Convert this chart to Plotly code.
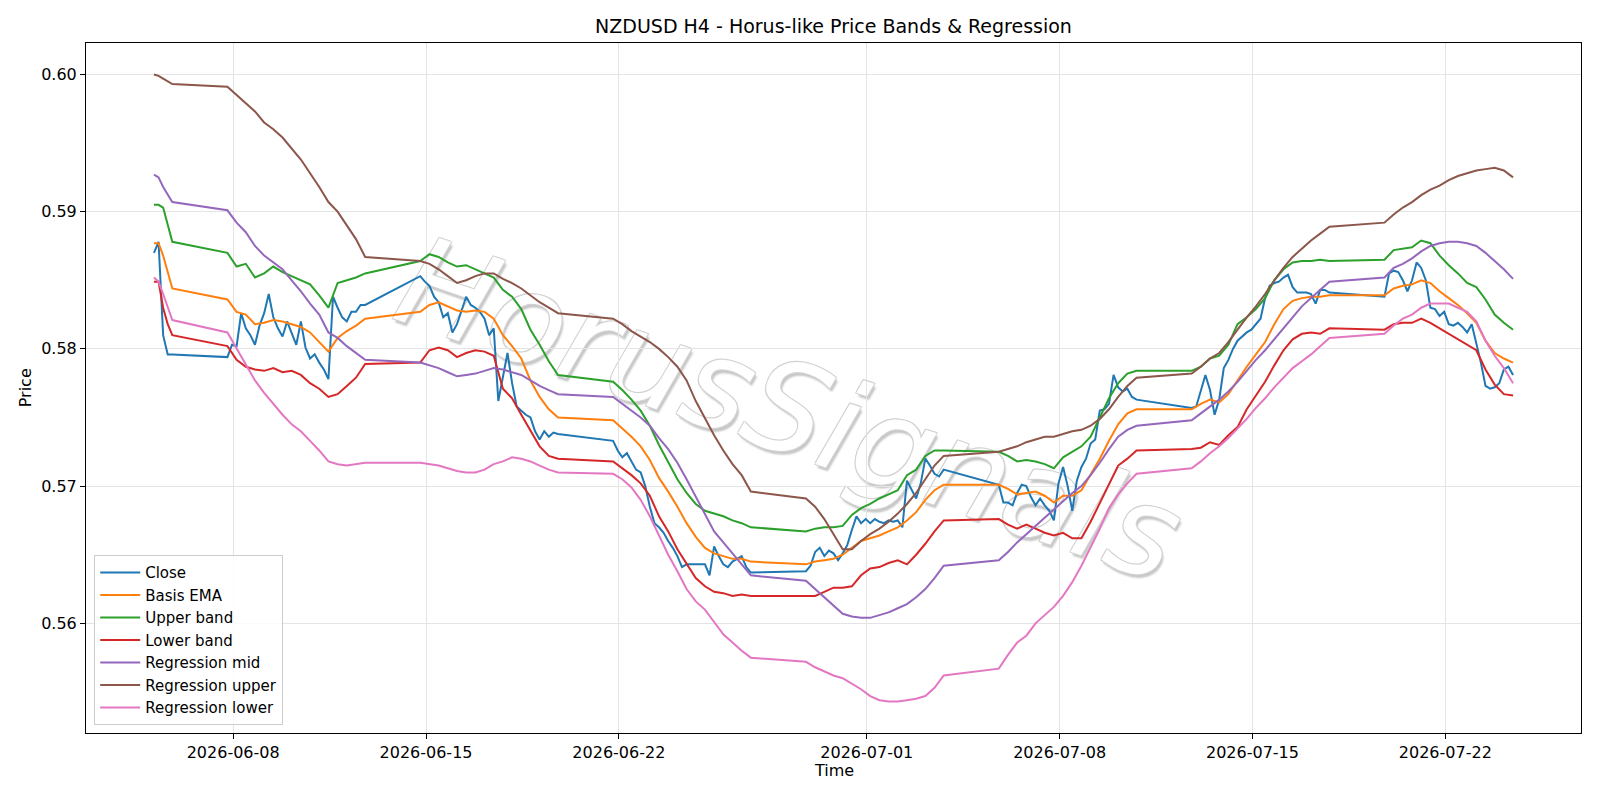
import pandas as pd
import plotly.graph_objects as go

# ---------------- data ----------------
TITLE = "NZDUSD H4 - Horus-like Price Bands & Regression"
SESSION_STARTS = ["2026-06-05 03:00", "2026-06-07 19:00", "2026-06-14 19:00", "2026-06-21 19:00",
                  "2026-06-28 19:00", "2026-07-05 19:00", "2026-07-12 19:00", "2026-07-19 19:00"]
CLOSE_STEP_H = [4, 4, 4, 4, 4, 4, 4, 4]
BAND_STEP_H = [4, 8, 8, 8, 8, 8, 8, 8]

CLOSE = [
    [.5870, .5878, .5810, .5796, .5796],
    [.5794, .5803, .5802, .5826, .5815, .5810, .5803, .5817, .5826, .5840, .5823, .5815, .5809, .5820, .5812, .5803,
     .5820, .5801, .5793, .5796, .5790, .5785, .5778, .5838, .5830, .5823, .5820, .5827, .5827, .5832, .5832],
    [.5853, .5849, .5846, .5838, .5834, .5823, .5826, .5812, .5818, .5828, .5838, .5832, .5830, .5827, .5822, .5810,
     .5815, .5762, .5780, .5797, .5775, .5758, .5755, .5752, .5750, .5740, .5734, .5740, .5736, .5739, .5738],
    [.5733, .5726, .5721, .5724, .5718, .5712, .5710, .5700, .5685, .5673, .5670, .5666, .5660, .5655, .5649, .5641,
     .5643, .5643, .5643, .5643, .5643, .5635, .5656, .5649, .5643, .5641, .5645, .5647, .5649, .5641, .5637],
    [.5638, .5642, .5652, .5655, .5649, .5653, .5651, .5646, .5651, .5657, .5668, .5678, .5673, .5676, .5673, .5676,
     .5674, .5673, .5675, .5674, .5675, .5670, .5704, .5697, .5691, .5702, .5720, .5715, .5709, .5707, .5712],
    [.5701, .5688, .5688, .5686, .5695, .5701, .5700, .5692, .5686, .5691, .5686, .5682, .5675, .5702, .5714, .5700,
     .5682, .5704, .5714, .5720, .5731, .5734, .5755, .5756, .5760, .5781, .5772, .5769, .5771, .5765, .5763],
    [.5757, .5758, .5770, .5781, .5770, .5752, .5763, .5786, .5792, .5800, .5806, .5809, .5812, .5814, .5818, .5822,
     .5837, .5846, .5848, .5849, .5852, .5854, .5845, .5841, .5841, .5841, .5840, .5833, .5843, .5843, .5841],
    [.5838, .5855, .5857, .5856, .5850, .5842, .5850, .5863, .5859, .5850, .5830, .5829, .5824, .5827, .5818, .5817,
     .5819, .5816, .5812, .5818, .5805, .5790, .5773, .5771, .5772, .5775, .5785, .5787, .5781],
]

BASIS_EMA = [
    [.5877, .5877, .5868, .5856, .5844],
    [.5836, .5827, .5825, .5818, .5819, .5821, .5820, .5818, .5816, .5812, .5805, .5798, .5808, .5813, .5817, .5822],
    [.5827, .5832, .5834, .5831, .5828, .5827, .5828, .5827, .5822, .5810, .5802, .5793, .5777, .5765, .5756, .5750],
    [.5748, .5742, .5736, .5729, .5719, .5706, .5696, .5685, .5673, .5663, .5655, .5651, .5649, .5647, .5647, .5645],
    [.5643, .5645, .5646, .5647, .5650, .5655, .5660, .5662, .5664, .5667, .5670, .5675, .5681, .5690, .5697, .5701],
    [.5701, .5698, .5694, .5695, .5696, .5693, .5688, .5693, .5693, .5697, .5708, .5720, .5733, .5745, .5753, .5756],
    [.5756, .5760, .5763, .5761, .5767, .5777, .5787, .5796, .5805, .5818, .5829, .5835, .5837, .5838, .5838, .5839],
    [.5839, .5844, .5846, .5847, .5850, .5848, .5842, .5837, .5832, .5826, .5819, .5806, .5797, .5793, .5790],
]

UPPER_BAND = [
    [.5905, .5905, .5903, .5890, .5878],
    [.5870, .5860, .5862, .5852, .5855, .5860, .5856, .5853, .5850, .5847, .5839, .5830, .5848, .5850, .5852, .5855],
    [.5864, .5869, .5867, .5863, .5860, .5861, .5858, .5855, .5852, .5843, .5838, .5829, .5814, .5803, .5791, .5781],
    [.5776, .5770, .5763, .5755, .5744, .5730, .5717, .5705, .5695, .5687, .5682, .5680, .5678, .5675, .5673, .5670],
    [.5667, .5669, .5670, .5670, .5671, .5679, .5684, .5687, .5691, .5694, .5697, .5708, .5712, .5722, .5726, .5726],
    [.5725, .5722, .5718, .5719, .5718, .5716, .5713, .5721, .5725, .5729, .5736, .5750, .5764, .5775, .5782, .5784],
    [.5784, .5787, .5793, .5795, .5803, .5818, .5823, .5829, .5837, .5850, .5858, .5863, .5864, .5864, .5865, .5864],
    [.5865, .5872, .5873, .5874, .5879, .5877, .5868, .5861, .5855, .5848, .5845, .5836, .5825, .5819, .5814],
]

LOWER_BAND = [
    [.5849, .5849, .5830, .5818, .5810],
    [.5802, .5792, .5787, .5785, .5784, .5786, .5783, .5784, .5781, .5775, .5771, .5765, .5767, .5773, .5779, .5789],
    [.5790, .5799, .5801, .5799, .5794, .5797, .5799, .5798, .5795, .5771, .5764, .5752, .5741, .5729, .5722, .5720],
    [.5718, .5713, .5708, .5702, .5693, .5678, .5667, .5654, .5643, .5633, .5627, .5623, .5622, .5620, .5621, .5620],
    [.5620, .5620, .5623, .5626, .5626, .5627, .5635, .5640, .5641, .5644, .5646, .5643, .5650, .5658, .5667, .5675],
    [.5676, .5672, .5669, .5672, .5669, .5666, .5664, .5666, .5662, .5662, .5674, .5688, .5702, .5715, .5720, .5726],
    [.5727, .5728, .5732, .5730, .5737, .5743, .5756, .5766, .5776, .5788, .5799, .5807, .5811, .5812, .5811, .5815],
    [.5814, .5818, .5819, .5819, .5822, .5819, .5815, .5811, .5807, .5803, .5799, .5785, .5774, .5767, .5766],
]

REG_MID = [
    [.5927, .5925, .5918, .5912, .5907],
    [.5901, .5892, .5885, .5875, .5868, .5863, .5858, .5850, .5842, .5833, .5825, .5812, .5808, .5802, .5797, .5792],
    [.5790, .5788, .5786, .5783, .5780, .5781, .5782, .5784, .5786, .5785, .5783, .5781, .5777, .5773, .5770, .5767],
    [.5765, .5760, .5755, .5750, .5744, .5735, .5727, .5717, .5705, .5692, .5680, .5667, .5659, .5651, .5643, .5635],
    [.5631, .5625, .5619, .5613, .5607, .5605, .5604, .5604, .5606, .5608, .5611, .5614, .5619, .5625, .5633, .5642],
    [.5646, .5652, .5659, .5665, .5671, .5677, .5683, .5689, .5695, .5700, .5708, .5717, .5727, .5736, .5741, .5744],
    [.5748, .5753, .5758, .5763, .5769, .5776, .5784, .5792, .5799, .5807, .5815, .5823, .5831, .5837, .5843, .5849],
    [.5852, .5859, .5862, .5866, .5871, .5875, .5877, .5878, .5878, .5877, .5875, .5870, .5864, .5858, .5851],
]

REG_UPPER = [
    [.6000, .5999, .5997, .5995, .5993],
    [.5991, .5985, .5979, .5973, .5965, .5960, .5954, .5946, .5938, .5928, .5918, .5907, .5900, .5890, .5880, .5867],
    [.5864, .5862, .5858, .5853, .5848, .5850, .5853, .5855, .5855, .5851, .5848, .5844, .5839, .5834, .5830, .5826],
    [.5822, .5818, .5813, .5809, .5805, .5800, .5794, .5787, .5777, .5762, .5749, .5737, .5726, .5716, .5708, .5696],
    [.5691, .5685, .5676, .5665, .5654, .5654, .5660, .5665, .5669, .5674, .5680, .5687, .5695, .5705, .5715, .5722],
    [.5725, .5727, .5729, .5732, .5734, .5736, .5736, .5738, .5740, .5741, .5744, .5749, .5756, .5765, .5773, .5779],
    [.5782, .5787, .5793, .5797, .5805, .5814, .5823, .5831, .5840, .5850, .5859, .5867, .5873, .5879, .5884, .5889],
    [.5892, .5898, .5903, .5907, .5912, .5916, .5919, .5923, .5926, .5928, .5930, .5931, .5932, .5930, .5925],
]

REG_LOWER = [
    [.5852, .5849, .5840, .5830, .5821],
    [.5812, .5800, .5788, .5777, .5768, .5760, .5752, .5745, .5740, .5733, .5726, .5718, .5716, .5715, .5716, .5717],
    [.5717, .5716, .5715, .5713, .5711, .5710, .5710, .5712, .5716, .5718, .5721, .5720, .5718, .5715, .5712, .5710],
    [.5709, .5705, .5699, .5690, .5678, .5664, .5650, .5638, .5625, .5616, .5610, .5601, .5592, .5586, .5580, .5575],
    [.5572, .5568, .5565, .5562, .5560, .5556, .5552, .5547, .5544, .5543, .5543, .5544, .5545, .5547, .5553, .5562],
    [.5567, .5577, .5586, .5591, .5600, .5606, .5612, .5620, .5630, .5642, .5655, .5669, .5684, .5694, .5702, .5709],
    [.5713, .5718, .5724, .5729, .5735, .5742, .5749, .5757, .5764, .5772, .5779, .5786, .5791, .5796, .5802, .5808],
    [.5811, .5817, .5822, .5825, .5830, .5833, .5833, .5833, .5830, .5827, .5820, .5806, .5795, .5786, .5775],
]

X_TICKS = ["2026-06-08", "2026-06-15", "2026-06-22", "2026-07-01", "2026-07-08", "2026-07-15", "2026-07-22"]
Y_TICKS = [0.56, 0.57, 0.58, 0.59, 0.60]
WATERMARK = "HorusSignals"


# ---------------- helpers ----------------
def flatten(sessions, steps):
    xs, ys = [], []
    for start, step, vals in zip(SESSION_STARTS, steps, sessions):
        xs += list(pd.date_range(start, periods=len(vals), freq=f"{step}h"))
        ys += list(vals)
    return xs, ys


SERIES = [
    ("Close", CLOSE, CLOSE_STEP_H, "#1f77b4"),
    ("Basis EMA", BASIS_EMA, BAND_STEP_H, "#ff7f0e"),
    ("Upper band", UPPER_BAND, BAND_STEP_H, "#2ca02c"),
    ("Lower band", LOWER_BAND, BAND_STEP_H, "#d62728"),
    ("Regression mid", REG_MID, BAND_STEP_H, "#9467bd"),
    ("Regression upper", REG_UPPER, BAND_STEP_H, "#8c564b"),
    ("Regression lower", REG_LOWER, BAND_STEP_H, "#e377c2"),
]

FONT = "DejaVu Sans"
TICK_SIZE = 16
fig = go.Figure()
for name, data, steps, color in SERIES:
    xs, ys = flatten(data, steps)
    fig.add_trace(go.Scatter(x=xs, y=ys, mode="lines", name=name,
                             line=dict(color=color, width=2)))

# watermark (below traces)
fig.add_shape(type="rect", xref="paper", yref="paper", x0=0.46, x1=0.485, y0=0.472, y1=0.492,
              line=dict(width=0), fillcolor="rgba(0,0,0,0)", layer="below",
              label=dict(text=WATERMARK, textangle=19, textposition="middle center",
                         font=dict(family=FONT, size=125, color="white", style="italic",
                                   shadow="-1px -1px 0 #d2d2d2, 1px -1px 0 #d2d2d2, -1px 1px 0 #d2d2d2, "
                                          "1px 1px 0 #d2d2d2, 3px 3px 2px #c6c6c6")))

fig.update_layout(
    width=1600, height=800,
    paper_bgcolor="white", plot_bgcolor="white",
    margin=dict(l=86, r=19, t=43, b=67),
    font=dict(family=FONT, size=TICK_SIZE, color="black"),
    title=dict(text=TITLE, x=0.5, xref="paper", xanchor="center", y=1 - 26 / 800, yanchor="middle",
               font=dict(family=FONT, size=19, color="black")),
    showlegend=True,
    legend=dict(x=0.0055, y=0.0113, xanchor="left", yanchor="bottom",
                bgcolor="rgba(255,255,255,0.85)", bordercolor="#cccccc", borderwidth=1,
                itemwidth=40,
                font=dict(family=FONT, size=15, color="black"), tracegroupgap=0),
)

fig.update_xaxes(
    type="date", range=["2026-06-02 15:48", "2026-07-26 22:12"],
    tickvals=X_TICKS, ticktext=X_TICKS,
    showgrid=True, gridcolor="#e4e4e4", gridwidth=1, zeroline=False,
    showline=True, linecolor="black", linewidth=1, mirror=True,
    ticks="outside", ticklen=5, tickcolor="black", tickfont=dict(family=FONT, size=TICK_SIZE, color="black"),
)
fig.update_yaxes(
    range=[0.55201, 0.60229],
    tickvals=Y_TICKS, ticktext=[f"{v:.2f}" for v in Y_TICKS],
    showgrid=True, gridcolor="#e4e4e4", gridwidth=1, zeroline=False,
    showline=True, linecolor="black", linewidth=1, mirror=True,
    ticks="outside", ticklen=5, tickcolor="black", tickfont=dict(family=FONT, size=TICK_SIZE, color="black"),
)

fig.add_annotation(text="Time", xref="paper", yref="paper", x=0.5, y=(733.3 - 771) / 690.6,
                   showarrow=False, xanchor="center", yanchor="middle",
                   font=dict(family=FONT, size=TICK_SIZE, color="black"))
fig.add_annotation(text="Price", xref="paper", yref="paper", x=(25 - 85.7) / 1495.3, y=0.5,
                   showarrow=False, xanchor="center", yanchor="middle", textangle=-90,
                   font=dict(family=FONT, size=TICK_SIZE, color="black"))

fig.write_html("out.html")
